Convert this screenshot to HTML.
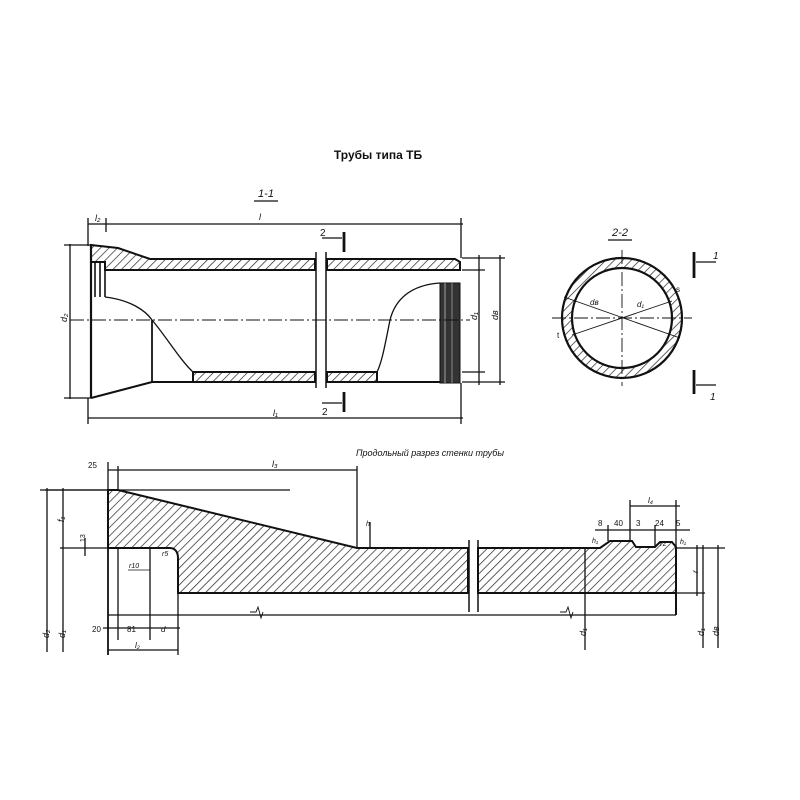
<!DOCTYPE html>
<html><head><meta charset="utf-8"><style>
html,body{margin:0;padding:0;background:#fff;}
svg{display:block;}
text{font-family:"Liberation Sans",sans-serif;fill:#111;}
.it{font-style:italic;}
</style></head><body>
<svg width="800" height="800" viewBox="0 0 800 800" xmlns="http://www.w3.org/2000/svg">
<defs>
<pattern id="h" width="6" height="6" patternUnits="userSpaceOnUse" patternTransform="rotate(45)">
<line x1="0" y1="0" x2="0" y2="6" stroke="#222" stroke-width="1.4"/>
</pattern>
</defs>
<g stroke="#111" fill="none" stroke-width="1.3">
<!-- TOP: 1-1 -->
<text x="378" y="159" font-size="12" font-weight="bold" text-anchor="middle" stroke="none">Трубы типа ТБ</text>
<text x="266" y="197" font-size="11" class="it" text-anchor="middle" stroke="none">1-1</text>
<line x1="254" y1="201" x2="278" y2="201"/>
<line x1="88" y1="224" x2="463" y2="224"/>
<line x1="88" y1="218" x2="88" y2="246"/>
<line x1="106" y1="218" x2="106" y2="232"/>
<line x1="461" y1="218" x2="461" y2="258"/>
<text x="95" y="221" font-size="9" class="it" stroke="none">l₂</text>
<text x="259" y="220" font-size="9" class="it" stroke="none">l</text>
<path d="M91,245 L118,248 L150,259 L315,259 L315,270 L105,270 L105,262 L91,262 Z" fill="url(#h)" stroke-width="2"/>
<path d="M327,259 L455,259 L460,262 L460,270 L327,270 Z" fill="url(#h)" stroke-width="2"/>
<line x1="91" y1="245" x2="91" y2="398" stroke-width="2.2"/>
<line x1="95" y1="262" x2="95" y2="297" stroke-width="1.6"/>
<line x1="100" y1="262" x2="100" y2="297" stroke-width="1.6"/>
<line x1="105" y1="262" x2="105" y2="297" stroke-width="1.6"/>
<path d="M105,297 C130,300 145,310 152,320 C165,335 180,360 193,372"/>
<line x1="152" y1="320" x2="152" y2="382" stroke-width="1.8"/>
<line x1="91" y1="398" x2="152" y2="382" stroke-width="2"/>
<path d="M193,372 L315,372 L315,382 L193,382 Z" fill="url(#h)" stroke-width="2"/>
<path d="M327,372 L377,372 L377,382 L327,382 Z" fill="url(#h)" stroke-width="2"/>
<line x1="152" y1="382" x2="193" y2="382" stroke-width="2"/>
<line x1="377" y1="382" x2="445" y2="382" stroke-width="2"/>
<path d="M440,283 C410,285 395,300 390,320 C385,345 382,362 377,372"/>
<rect x="440" y="283" width="20" height="100" fill="#333" stroke-width="1"/>
<line x1="445" y1="283" x2="445" y2="383" stroke="#888"/>
<line x1="452" y1="283" x2="452" y2="383" stroke="#777"/>
<line x1="316" y1="252" x2="316" y2="388" stroke-width="1.5"/>
<line x1="326" y1="252" x2="326" y2="388" stroke-width="1.5"/>
<line x1="70" y1="320" x2="470" y2="320" stroke-dasharray="14,3,2,3" stroke-width="0.9"/>
<line x1="344" y1="232" x2="344" y2="252" stroke-width="2.8"/>
<line x1="322" y1="238" x2="342" y2="238"/>
<text x="320" y="236" font-size="10" stroke="none">2</text>
<line x1="344" y1="392" x2="344" y2="412" stroke-width="2.8"/>
<line x1="322" y1="403" x2="342" y2="403"/>
<text x="322" y="415" font-size="10" stroke="none">2</text>
<line x1="88" y1="418" x2="463" y2="418"/>
<line x1="88" y1="398" x2="88" y2="424"/>
<line x1="461" y1="383" x2="461" y2="424"/>
<text x="273" y="416" font-size="9" class="it" stroke="none">l₁</text>
<line x1="70" y1="244" x2="70" y2="399"/>
<line x1="64" y1="245" x2="92" y2="245"/>
<line x1="64" y1="398" x2="92" y2="398"/>
<text x="64" y="325" font-size="9" class="it" stroke="none" transform="rotate(-90 64 322)">d₂</text>
<line x1="462" y1="258" x2="505" y2="258"/>
<line x1="462" y1="270" x2="485" y2="270"/>
<line x1="462" y1="372" x2="485" y2="372"/>
<line x1="462" y1="382" x2="505" y2="382"/>
<line x1="479" y1="255" x2="479" y2="385"/>
<line x1="500" y1="255" x2="500" y2="385"/>
<text x="475" y="322" font-size="9" class="it" stroke="none" transform="rotate(-90 475 320)">d₁</text>
<text x="496" y="322" font-size="9" class="it" stroke="none" transform="rotate(-90 496 320)">dв</text>

<!-- CIRCLE 2-2 -->
<text x="620" y="236" font-size="11" class="it" text-anchor="middle" stroke="none">2-2</text>
<line x1="608" y1="240" x2="632" y2="240"/>
<path fill-rule="evenodd" d="M682,318 A60,60 0 1 0 562,318 A60,60 0 1 0 682,318 Z M672,318 A50,50 0 1 1 572,318 A50,50 0 1 1 672,318 Z" fill="url(#h)" stroke-width="2.2"/>
<line x1="622" y1="250" x2="622" y2="386" stroke-dasharray="14,3,2,3" stroke-width="0.9"/>
<line x1="552" y1="318" x2="692" y2="318" stroke-dasharray="14,3,2,3" stroke-width="0.9"/>
<line x1="564" y1="297" x2="680" y2="338" stroke-width="0.9"/>
<line x1="572" y1="335" x2="672" y2="301" stroke-width="0.9"/>
<text x="590" y="305" font-size="8" class="it" stroke="none">dв</text>
<text x="637" y="307" font-size="8" class="it" stroke="none">d₁</text>
<text x="676" y="292" font-size="8" stroke="none">s</text>
<text x="557" y="338" font-size="8" stroke="none">t</text>
<line x1="694" y1="252" x2="694" y2="278" stroke-width="2.8"/>
<line x1="696" y1="262" x2="716" y2="262"/>
<text x="713" y="259" font-size="10" class="it" stroke="none">1</text>
<line x1="694" y1="370" x2="694" y2="394" stroke-width="2.8"/>
<line x1="696" y1="385" x2="716" y2="385"/>
<text x="710" y="400" font-size="10" class="it" stroke="none">1</text>

<!-- BOTTOM longitudinal -->
<text x="430" y="456" font-size="9" class="it" text-anchor="middle" stroke="none">Продольный разрез стенки трубы</text>
<line x1="45" y1="490" x2="290" y2="490"/>
<path d="M108,490 L118,490 L357,548 L468,548 L468,593 L178,593 L178,558 C178,552 175,548 170,548 L108,548 Z" fill="url(#h)" stroke-width="2"/>
<path d="M478,548 L586,548 L600,548 L610,541 L632,541 L636,547 L655,547 L660,542 L672,542 L676,547 L676,593 L478,593 Z" fill="url(#h)" stroke-width="2"/>
<line x1="469" y1="540" x2="469" y2="612" stroke-width="1.5"/>
<line x1="478" y1="540" x2="478" y2="612" stroke-width="1.5"/>
<line x1="676" y1="593" x2="676" y2="615" stroke-width="2"/>
<line x1="108" y1="490" x2="108" y2="655" stroke-width="1.8"/>
<line x1="118" y1="548" x2="118" y2="640" />
<line x1="150" y1="548" x2="150" y2="640" />
<line x1="178" y1="593" x2="178" y2="655" />
<line x1="108" y1="615" x2="676" y2="615"/>
<line x1="585" y1="548" x2="585" y2="650"/>
<path d="M250,612 L256,612 L258,607 L261,618 L263,612" stroke-width="0.9"/>
<path d="M560,612 L566,612 L568,607 L571,618 L573,612" stroke-width="0.9"/>
<line x1="108" y1="470" x2="357" y2="470"/>
<line x1="108" y1="462" x2="108" y2="490"/>
<line x1="118" y1="466" x2="118" y2="490"/>
<line x1="357" y1="466" x2="357" y2="548"/>
<text x="88" y="468" font-size="8" stroke="none">25</text>
<text x="272" y="467" font-size="9" class="it" stroke="none">l₃</text>
<line x1="370" y1="522" x2="370" y2="548"/>
<text x="366" y="526" font-size="7" class="it" stroke="none">h</text>
<line x1="47" y1="488" x2="47" y2="652"/>
<line x1="63" y1="488" x2="63" y2="652"/>
<line x1="40" y1="490" x2="108" y2="490"/>
<line x1="60" y1="548" x2="108" y2="548"/>
<line x1="85" y1="538" x2="85" y2="556"/>
<text x="60" y="526" font-size="9" class="it" stroke="none" transform="rotate(-90 60 522)">f₁</text>
<text x="81" y="546" font-size="7" stroke="none" transform="rotate(-90 81 542)">13</text>
<text x="45" y="642" font-size="9" class="it" stroke="none" transform="rotate(-90 45 638)">d₂</text>
<text x="61" y="642" font-size="9" class="it" stroke="none" transform="rotate(-90 61 638)">d₁</text>
<text x="129" y="568" font-size="7" class="it" stroke="none">r10</text>
<line x1="128" y1="570" x2="150" y2="570" stroke-width="0.8"/>
<text x="162" y="556" font-size="7" class="it" stroke="none">r5</text>
<line x1="103" y1="628" x2="180" y2="628"/>
<text x="92" y="632" font-size="8" stroke="none">20</text>
<text x="127" y="632" font-size="8" stroke="none">81</text>
<text x="161" y="632" font-size="8" class="it" stroke="none">d</text>
<line x1="108" y1="650" x2="178" y2="650"/>
<text x="135" y="648" font-size="8" class="it" stroke="none">l₂</text>
<line x1="630" y1="506" x2="680" y2="506"/>
<line x1="630" y1="500" x2="630" y2="541"/>
<line x1="676" y1="500" x2="676" y2="547"/>
<text x="648" y="503" font-size="8" class="it" stroke="none">l₄</text>
<text x="598" y="526" font-size="8" stroke="none">8</text>
<text x="614" y="526" font-size="8" stroke="none">40</text>
<text x="636" y="526" font-size="8" stroke="none">3</text>
<text x="655" y="526" font-size="8" stroke="none">24</text>
<text x="676" y="526" font-size="8" stroke="none">5</text>
<line x1="595" y1="530" x2="690" y2="530"/>
<line x1="608" y1="525" x2="608" y2="541"/>
<line x1="655" y1="525" x2="655" y2="547"/>
<text x="592" y="543" font-size="7" class="it" stroke="none">h₁</text>
<text x="660" y="546" font-size="7" stroke="none">r2</text>
<text x="680" y="544" font-size="7" class="it" stroke="none">h₁</text>
<line x1="676" y1="548" x2="725" y2="548"/>
<line x1="676" y1="593" x2="705" y2="593"/>
<line x1="697" y1="545" x2="697" y2="596"/>
<line x1="703" y1="545" x2="703" y2="648"/>
<line x1="718" y1="545" x2="718" y2="648"/>
<text x="694" y="577" font-size="8" class="it" stroke="none" transform="rotate(-90 694 573)">r</text>
<text x="700" y="640" font-size="9" class="it" stroke="none" transform="rotate(-90 700 636)">d₁</text>
<text x="715" y="640" font-size="9" class="it" stroke="none" transform="rotate(-90 715 636)">dв</text>
<text x="582" y="640" font-size="9" class="it" stroke="none" transform="rotate(-90 582 636)">d₁</text>
</g>
</svg>
</body></html>
